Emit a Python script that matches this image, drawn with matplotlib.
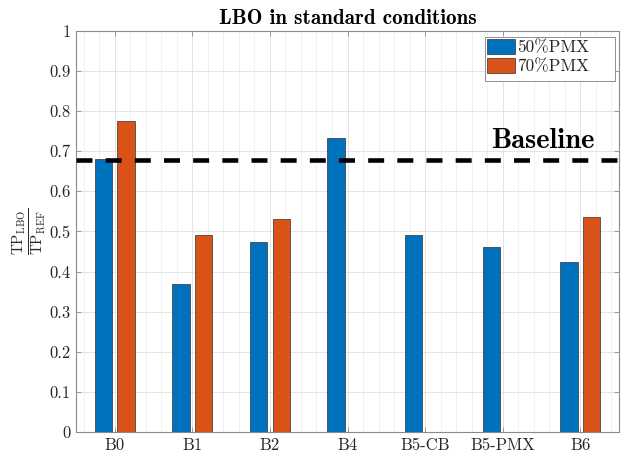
import numpy as np
import matplotlib
matplotlib.use("Agg")
import matplotlib.pyplot as plt
from matplotlib.ticker import MultipleLocator
from matplotlib.patches import Rectangle

categories = ["B0", "B1", "B2", "B4", "B5-CB", "B5-PMX", "B6"]
pmx50 = [0.680, 0.369, 0.474, 0.733, 0.491, 0.460, 0.424]
pmx70 = [0.775, 0.490, 0.531, np.nan, np.nan, np.nan, 0.536]
baseline = 0.677
series_labels = ["50%PMX", "70%PMX"]
y_ticks = [0, 0.1, 0.2, 0.3, 0.4, 0.5, 0.6, 0.7, 0.8, 0.9, 1]
y_tick_labels = ["0", "0.1", "0.2", "0.3", "0.4", "0.5", "0.6", "0.7", "0.8", "0.9", "1"]

plt.rcParams["mathtext.fontset"] = "cm"
plt.rcParams["axes.unicode_minus"] = False
plt.rcParams["lines.scale_dashes"] = False

BLUE = "#0072BD"
ORANGE = "#D95319"
TXT = "#262626"
SPINE = "#8a8a8a"

W, H = 621, 457
fig = plt.figure(figsize=(W / 100, H / 100), dpi=100)
ax = fig.add_axes([0.1224, 0.0545, 0.8744, 0.8783])

x = np.arange(1, len(categories) + 1)
off = 0.146
w = 0.225
ax.bar(x - off, pmx50, width=w, color=BLUE, edgecolor="#303030",
       linewidth=0.5, label=series_labels[0], zorder=3)
ax.bar(x + off, pmx70, width=w, color=ORANGE, edgecolor="#303030",
       linewidth=0.5, label=series_labels[1], zorder=3)

ax.axhline(baseline, color="black", linewidth=3.3, dashes=(11.5, 9.5),
           zorder=4)
ax.text(6.52, baseline + 0.016, "Baseline", family="cmb10", fontsize=20.5,
        ha="center", va="bottom", color="black", zorder=5)

ax.set_xlim(0.5, 7.5)
ax.set_ylim(0, 1)
ax.set_xticks(x)
ax.set_xticklabels(categories, family="cmr10", fontsize=12, color=TXT)
ax.xaxis.set_minor_locator(MultipleLocator(0.2))
ax.set_yticks(y_ticks)
ax.set_yticklabels(y_tick_labels, family="cmr10", fontsize=12, color=TXT)

ax.tick_params(axis="both", which="major", direction="in", length=3.5,
               width=0.6, color=SPINE, top=True, right=True, pad=4)
ax.tick_params(axis="x", which="minor", length=0, top=True)
ax.tick_params(axis="y", which="minor", left=False, right=False)

ax.grid(True, which="major", axis="both", color="#e4e4e4", linewidth=0.7,
        zorder=0)
ax.grid(True, which="minor", axis="x", color="#efefef", linewidth=0.6,
        zorder=0)
ax.set_axisbelow(True)

for s in ax.spines.values():
    s.set_color(SPINE)
    s.set_linewidth(0.8)

ax.set_title("LBO in standard conditions", family="cmb10", fontsize=15.2,
             color="black", pad=5)
ax.set_ylabel(r"$\frac{\mathrm{TP}_{\mathrm{LBO}}}{\mathrm{TP}_{\mathrm{REF}}}$",
              fontsize=15.5, color=TXT, labelpad=1)

# legend box drawn separately so its padding can be wider on the right
frame = Rectangle((485 / W, 1 - 81 / H), 130 / W, 44 / H,
                  transform=fig.transFigure, facecolor="white",
                  edgecolor="#909090", linewidth=0.7, zorder=6,
                  clip_on=False)
ax.add_patch(frame)
leg = ax.legend(loc="upper left", bbox_to_anchor=(487 / W, 1 - 39 / H),
                bbox_transform=fig.transFigure,
                prop={"family": "cmr10", "size": 12.4},
                frameon=False, handlelength=1.63, handleheight=0.95,
                handletextpad=0.12, borderpad=0.0, labelspacing=0.14,
                borderaxespad=0.0)
leg.set_zorder(7)
for t in leg.get_texts():
    t.set_color(TXT)

fig.savefig("out.png", dpi=100)
